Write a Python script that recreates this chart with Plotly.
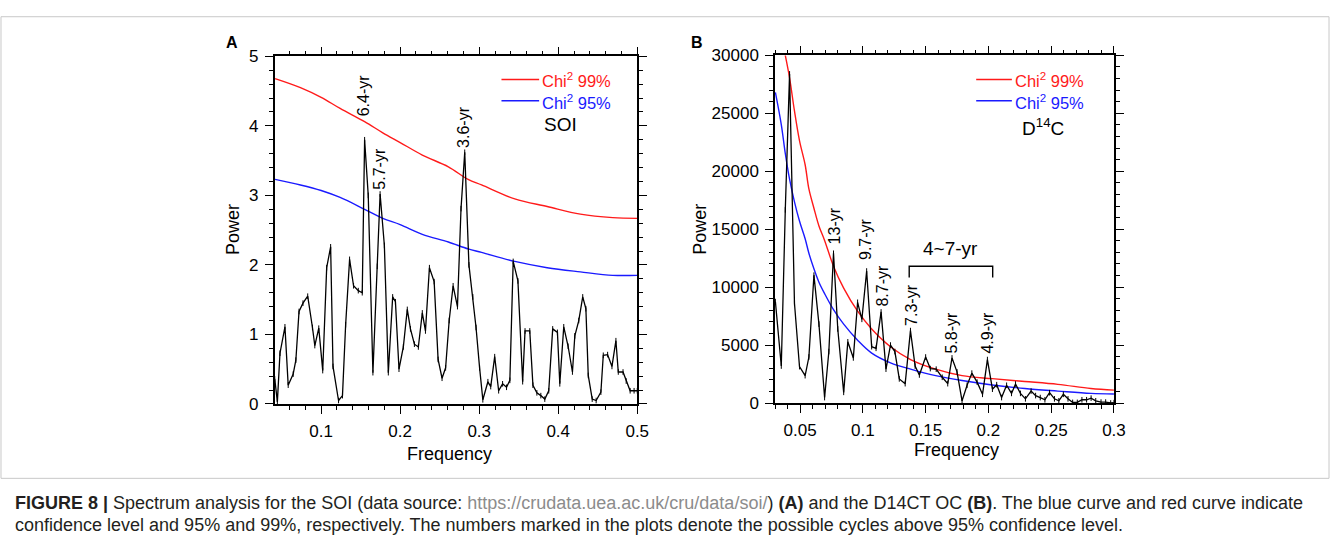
import plotly.graph_objects as go

# ---------------- Data ----------------
soi_freq = [0.0413, 0.0446, 0.0479, 0.0542, 0.0583, 0.0646, 0.0680, 0.0720, 0.0770, 0.0830,
            0.0890, 0.0920, 0.0970, 0.1020, 0.1070, 0.1120, 0.1150, 0.1220, 0.1270, 0.1310,
            0.1360, 0.1410, 0.1470, 0.1520, 0.1550, 0.1596, 0.1655, 0.1710, 0.1746, 0.1800,
            0.1850, 0.1905, 0.1940, 0.1985, 0.2040, 0.2090, 0.2130, 0.2180, 0.2230, 0.2280,
            0.2320, 0.2370, 0.2430, 0.2480, 0.2530, 0.2575, 0.2620, 0.2670, 0.2725, 0.2770,
            0.2817, 0.2870, 0.2920, 0.2960, 0.3005, 0.3046, 0.3110, 0.3146, 0.3196, 0.3246,
            0.3296, 0.3346, 0.3388, 0.3430, 0.3490, 0.3550, 0.3580, 0.3640, 0.3680, 0.3730,
            0.3780, 0.3830, 0.3880, 0.3930, 0.3990, 0.4020, 0.4070, 0.4125, 0.4180, 0.4210,
            0.4260, 0.4310, 0.4350, 0.4380, 0.4430, 0.4480, 0.4540, 0.4570, 0.4625, 0.4680,
            0.4730, 0.4760, 0.4820, 0.4860, 0.4910, 0.4960, 0.5000]
soi_power = [0.36, 0.03, 0.73, 1.11, 0.27, 0.43, 0.63, 1.33, 1.45, 1.55,
             1.10, 0.84, 1.09, 0.48, 1.96, 2.26, 0.54, 0.05, 0.12, 1.14,
             2.08, 1.70, 1.63, 1.60, 3.80, 3.00, 0.45, 1.98, 3.02, 2.28,
             0.45, 1.54, 1.47, 0.50, 0.82, 1.36, 1.08, 0.86, 0.82, 1.31,
             1.05, 1.96, 1.76, 0.64, 0.37, 0.52, 1.20, 1.70, 1.40, 2.81,
             3.62, 2.00, 1.54, 1.10, 0.52, 0.06, 0.32, 0.25, 0.68, 0.19,
             0.29, 0.24, 0.34, 2.05, 1.77, 0.32, 1.05, 1.05, 0.27, 0.16,
             0.12, 0.07, 0.19, 1.08, 1.03, 0.29, 1.11, 0.83, 0.46, 0.98,
             1.20, 1.54, 1.37, 0.41, 0.07, 0.05, 0.17, 0.70, 0.71, 0.54,
             0.91, 0.46, 0.46, 0.33, 0.19, 0.19, 0.19]

soi_chi_freq = [0.0417, 0.0738, 0.100, 0.124, 0.155, 0.178, 0.200, 0.228, 0.261, 0.286,
                0.303, 0.345, 0.386, 0.428, 0.469, 0.500]
soi_chi99 = [4.68, 4.55, 4.41, 4.25, 4.06, 3.90, 3.76, 3.58, 3.41, 3.23,
             3.15, 2.95, 2.84, 2.73, 2.68, 2.67]
soi_chi95 = [3.23, 3.15, 3.07, 2.97, 2.80, 2.67, 2.58, 2.44, 2.33, 2.23,
             2.18, 2.05, 1.96, 1.90, 1.85, 1.85]

d14c_freq = [0.0303, 0.0350, 0.0382, 0.0416, 0.0455, 0.0495, 0.0540, 0.0570, 0.0610, 0.0650,
             0.0695, 0.0729, 0.0766, 0.0800, 0.0847, 0.0880, 0.0924, 0.0958, 0.0992, 0.1030,
             0.1070, 0.1105, 0.1145, 0.1184, 0.1220, 0.1255, 0.1290, 0.1337, 0.1379, 0.1416,
             0.1450, 0.1500, 0.1537, 0.1584, 0.1632, 0.1676, 0.1710, 0.1750, 0.1790, 0.1830,
             0.1868, 0.1910, 0.1953, 0.1992, 0.2032, 0.2066, 0.2105, 0.2145, 0.2184, 0.2216,
             0.2255, 0.2295, 0.2340, 0.2376, 0.2413, 0.2450, 0.2487, 0.2526, 0.2561, 0.2597,
             0.2634, 0.2671, 0.2708, 0.2745, 0.2782, 0.2818, 0.2855, 0.2897, 0.2934, 0.2974,
             0.3000]
d14c_power = [8750, 3190, 16670, 28400, 8610, 3140, 2360, 3970, 11030, 6810,
              470, 4440, 12920, 6390, 920, 5280, 3890, 8690, 7220, 11390,
              4860, 4720, 7860, 2920, 5000, 4440, 2080, 1670, 6250, 3190,
              2420, 3970, 2970, 2920, 2220, 1670, 3890, 2690, 190, 1530,
              2580, 1800, 750, 3750, 1190, 1580, 470, 1530, 830, 1640,
              830, 360, 1030, 640, 470, 280, 890, 360, 190, 750,
              360, 50, 50, 280, 280, 420, 190, 80, 80, 0,
              30]

d14c_chi99_freq = [0.0382, 0.0416, 0.0455, 0.0495, 0.0540, 0.0570, 0.0610, 0.0650, 0.0695, 0.0766,
                   0.0847, 0.0958, 0.1070, 0.1220, 0.1380, 0.1580, 0.1790, 0.2030, 0.2290, 0.2553,
                   0.2816, 0.3000]
d14c_chi99 = [30000, 28060, 25200, 22640, 20560, 18470, 16810, 15280, 14030, 11810,
              9920, 7920, 6390, 4860, 3750, 2920, 2360, 2100, 1860, 1610,
              1250, 1110]
d14c_chi95_freq = [0.0303, 0.0350, 0.0382, 0.0416, 0.0455, 0.0495, 0.0540, 0.0570, 0.0610, 0.0650,
                   0.0695, 0.0766, 0.0847, 0.0958, 0.1070, 0.1220, 0.1380, 0.1580, 0.1790, 0.2030,
                   0.2290, 0.2553, 0.2816, 0.3000]
d14c_chi95 = [26810, 24030, 21530, 19310, 17360, 15700, 14170, 12920, 11580, 10420,
              9440, 8060, 6810, 5420, 4310, 3470, 2920, 2360, 1940, 1560,
              1250, 1030, 830, 780]

soi_labels = ["6.4-yr", "5.7-yr", "3.6-yr"]
soi_label_x = [0.153, 0.1737, 0.280]
soi_label_y = [4.44, 3.39, 3.99]

d14c_labels = ["13-yr", "9.7-yr", "8.7-yr", "7.3-yr", "5.8-yr", "4.9-yr"]
d14c_label_x = [0.0781, 0.1021, 0.1158, 0.1381, 0.1705, 0.1992]
d14c_label_y = [15275, 14110, 10110, 8440, 6110, 6110]

soi_xticks = [0.1, 0.2, 0.3, 0.4, 0.5]
soi_yticks = [0, 1, 2, 3, 4, 5]
d14c_xticks = [0.05, 0.1, 0.15, 0.2, 0.25, 0.3]
d14c_xticklabels = ["0.05", "0.1", "0.15", "0.2", "0.25", "0.3"]
d14c_yticks = [0, 5000, 10000, 15000, 20000, 25000, 30000]
d14c_yticklabels = ["0", "5000", "10000", "15000", "20000", "25000", "30000"]

# ---------------- Figure ----------------
W, H = 1342, 554
FONT = "Liberation Sans, Arial, sans-serif"
RED = "#ff1a1a"
BLUE = "#1a1aff"

fig = go.Figure()

def px_x(p):
    return p / W

def px_y(p):
    return 1 - p / H

blk_marker = dict(symbol="line-ns", size=4, line=dict(color="black", width=1))

fig.add_trace(go.Scatter(x=soi_chi_freq, y=soi_chi99, mode="lines", line=dict(color=RED, width=1.4, shape="spline"),
                         xaxis="x", yaxis="y", showlegend=False))
fig.add_trace(go.Scatter(x=soi_chi_freq, y=soi_chi95, mode="lines", line=dict(color=BLUE, width=1.4, shape="spline"),
                         xaxis="x", yaxis="y", showlegend=False))
fig.add_trace(go.Scatter(x=soi_freq, y=soi_power, mode="lines+markers", line=dict(color="black", width=1.3),
                         marker=blk_marker, xaxis="x", yaxis="y", showlegend=False))

fig.add_trace(go.Scatter(x=d14c_chi99_freq, y=d14c_chi99, mode="lines", line=dict(color=RED, width=1.4, shape="spline"),
                         xaxis="x2", yaxis="y2", showlegend=False))
fig.add_trace(go.Scatter(x=d14c_chi95_freq, y=d14c_chi95, mode="lines", line=dict(color=BLUE, width=1.4, shape="spline"),
                         xaxis="x2", yaxis="y2", showlegend=False))
fig.add_trace(go.Scatter(x=d14c_freq, y=d14c_power, mode="lines+markers", line=dict(color="black", width=1.3),
                         marker=blk_marker, xaxis="x2", yaxis="y2", showlegend=False))

axis_common = dict(showline=True, linecolor="black", linewidth=1.5, mirror="ticks", ticks="outside",
                   ticklen=8, tickwidth=1.2, tickcolor="black", showgrid=False, zeroline=False,
                   tickfont=dict(family=FONT, size=17, color="black"), ticklabelstandoff=3)

fig.update_layout(
    width=W, height=H, autosize=False,
    margin=dict(l=0, r=0, t=0, b=0, pad=0),
    paper_bgcolor="white", plot_bgcolor="white",
    xaxis=dict(domain=[px_x(277), px_x(643)], range=[0.041, 0.5], anchor="y",
               tickvals=soi_xticks, ticktext=[str(v) for v in soi_xticks],
               minor=dict(dtick=0.02, tick0=0, ticklen=4, ticks="outside", tickcolor="black", tickwidth=1),
               **axis_common),
    yaxis=dict(domain=[px_y(409), px_y(49)], range=[0, 5], anchor="x",
               tickvals=soi_yticks,
               minor=dict(dtick=0.2, tick0=0, ticklen=4, ticks="outside", tickcolor="black", tickwidth=1),
               **axis_common),
    xaxis2=dict(domain=[px_x(782), px_x(1124)], range=[0.03, 0.3], anchor="y2",
                tickvals=d14c_xticks, ticktext=d14c_xticklabels,
                minor=dict(dtick=0.01, tick0=0, ticklen=4, ticks="outside", tickcolor="black", tickwidth=1),
                **axis_common),
    yaxis2=dict(domain=[px_y(408), px_y(48)], range=[0, 30000], anchor="x2",
                tickvals=d14c_yticks, ticktext=d14c_yticklabels,
                minor=dict(dtick=1000, tick0=0, ticklen=4, ticks="outside", tickcolor="black", tickwidth=1),
                **axis_common),
)

ann = []
shapes = []

def paper_text(x, y, text, size=17, color="black", xanchor="center", angle=0):
    ann.append(dict(x=px_x(x), y=px_y(y), xref="paper", yref="paper", text=text, showarrow=False,
                    xanchor=xanchor, yanchor="middle", textangle=angle,
                    font=dict(family=FONT, size=size, color=color)))

# panel letters
paper_text(234, 35, "<b>A</b>", size=16)
paper_text(703, 35, "<b>B</b>", size=16)

# axis titles
paper_text(454, 461, "Frequency", size=18)
paper_text(965, 457, "Frequency", size=18)
paper_text(235, 228, "Power", size=18, angle=-90)
paper_text(706, 228, "Power", size=18, angle=-90)

# legend (A)
shapes.append(dict(type="line", xref="paper", yref="paper", x0=px_x(506), x1=px_x(544), y0=px_y(73), y1=px_y(73),
                   line=dict(color=RED, width=1.4)))
shapes.append(dict(type="line", xref="paper", yref="paper", x0=px_x(506), x1=px_x(544), y0=px_y(95), y1=px_y(95),
                   line=dict(color=BLUE, width=1.4)))
paper_text(545, 74, "Chi<sup>2</sup> 99%", size=16.5, color=RED, xanchor="left")
paper_text(545, 96, "Chi<sup>2</sup> 95%", size=16.5, color=BLUE, xanchor="left")
paper_text(566, 120, "SOI", size=19)

# legend (B)
shapes.append(dict(type="line", xref="paper", yref="paper", x0=px_x(985), x1=px_x(1021), y0=px_y(73), y1=px_y(73),
                   line=dict(color=RED, width=1.4)))
shapes.append(dict(type="line", xref="paper", yref="paper", x0=px_x(985), x1=px_x(1021), y0=px_y(95), y1=px_y(95),
                   line=dict(color=BLUE, width=1.4)))
paper_text(1022, 74, "Chi<sup>2</sup> 99%", size=16.5, color=RED, xanchor="left")
paper_text(1022, 96, "Chi<sup>2</sup> 95%", size=16.5, color=BLUE, xanchor="left")
paper_text(1052, 122, "D<sup>14</sup>C", size=19)

# peak labels
for t, x, y in zip(soi_labels, soi_label_x, soi_label_y):
    ann.append(dict(x=x, y=y, xref="x", yref="y", text=t, showarrow=False, textangle=-90,
                    font=dict(family=FONT, size=16, color="black")))
for t, x, y in zip(d14c_labels, d14c_label_x, d14c_label_y):
    ann.append(dict(x=x, y=y, xref="x2", yref="y2", text=t, showarrow=False, textangle=-90,
                    font=dict(family=FONT, size=16, color="black")))

# 4~7-yr bracket
ann.append(dict(x=0.1701, y=13300, xref="x2", yref="y2", text="4~7-yr", showarrow=False,
                font=dict(family=FONT, size=19, color="black")))
shapes.append(dict(type="path", xref="x2", yref="y2",
                   path="M 0.1369 10830 L 0.1369 11800 L 0.2034 11800 L 0.2034 10830",
                   line=dict(color="black", width=1.4)))

# figure frame
shapes.append(dict(type="rect", xref="paper", yref="paper", x0=px_x(1), x1=px_x(1341), y0=px_y(486), y1=px_y(8),
                   line=dict(color="#c8c8c8", width=1), fillcolor="rgba(0,0,0,0)", layer="below"))

# caption
cap1 = ("<b>FIGURE 8 |</b> Spectrum analysis for the SOI (data source: "
        "<span style='color:#8c8c8c'>https://crudata.uea.ac.uk/cru/data/soi/</span>) "
        "<b>(A)</b> and the D14CT OC <b>(B)</b>. The blue curve and red curve indicate")
cap2 = ("confidence level and 95% and 99%, respectively. The numbers marked in the plots denote "
        "the possible cycles above 95% confidence level.")
paper_text(13, 512, cap1, size=18, color="#231f20", xanchor="left")
paper_text(13, 534, cap2, size=18, color="#231f20", xanchor="left")

fig.update_layout(annotations=ann, shapes=shapes)

fig.write_html("out.html", config={"displayModeBar": False},
               post_script="document.body.style.margin='0px';")
